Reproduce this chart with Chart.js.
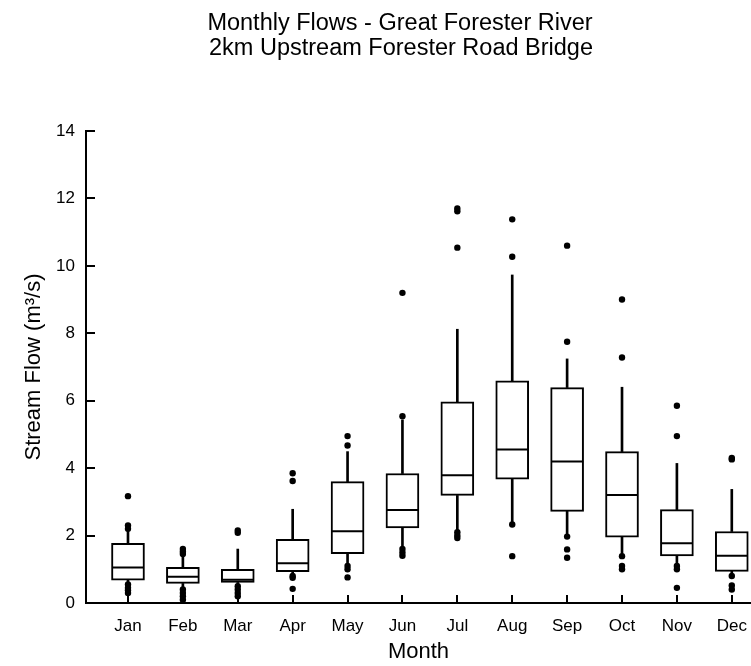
<!DOCTYPE html>
<html>
<head>
<meta charset="utf-8">
<title>Monthly Flows - Great Forester River</title>
<script src="https://cdn.jsdelivr.net/npm/chart.js@4.4.1/dist/chart.umd.min.js"></script>
<style>
    html, body { margin: 0; padding: 0; background: #fff; }
    #wadah { width: 751px; height: 666px; }
</style>
</head>
<body>
<div id="wadah"><canvas id="boxplotDebit" width="751" height="666"></canvas></div>
<script>
// Data debit bulanan (m3/s)
const bulan = ['Jan', 'Feb', 'Mar', 'Apr', 'May', 'Jun', 'Jul', 'Aug', 'Sep', 'Oct', 'Nov', 'Dec'];
const kuartil1 = [0.68, 0.58, 0.61, 0.93, 1.46, 2.23, 3.19, 3.67, 2.72, 1.95, 1.40, 0.94];
const median = [1.05, 0.78, 0.69, 1.18, 2.13, 2.76, 3.79, 4.55, 4.20, 3.20, 1.77, 1.40];
const kuartil3 = [1.77, 1.06, 1.00, 1.89, 3.60, 3.84, 5.97, 6.59, 6.39, 4.49, 2.77, 2.12];
const kumisBawah = [0.60, 0.45, 0.53, 0.80, 1.10, 1.60, 2.10, 2.33, 1.97, 1.39, 1.10, 0.80];
const kumisAtas = [2.20, 1.50, 1.60, 2.78, 4.49, 5.43, 8.12, 9.73, 7.24, 6.40, 4.14, 3.37];
const pencilan = [
    [3.17, 2.30, 2.20, 0.55, 0.45, 0.38, 0.30],
    [1.60, 1.52, 1.45, 0.40, 0.30, 0.20, 0.10],
    [2.15, 2.08, 0.50, 0.40, 0.30, 0.20],
    [3.85, 3.62, 0.80, 0.75, 0.42],
    [4.95, 4.67, 1.10, 1.00, 0.76],
    [9.20, 5.54, 1.60, 1.50, 1.40],
    [11.70, 11.62, 10.54, 2.10, 2.00, 1.93],
    [11.38, 10.27, 2.33, 1.39],
    [10.60, 7.75, 1.97, 1.59, 1.34],
    [9.00, 7.28, 1.39, 1.10, 1.00],
    [5.85, 4.95, 1.10, 1.00, 0.45],
    [4.30, 4.26, 0.80, 0.52, 0.40]
];
const tickY = [0, 2, 4, 6, 8, 10, 12, 14];
const judul = ['Monthly Flows - Great Forester River', '2km Upstream Forester Road Bridge'];

document.addEventListener('DOMContentLoaded', function () {
    Chart.defaults.font.family = '"Liberation Sans", Arial, sans-serif';
    Chart.defaults.color = '#000';

    // Titik-titik untuk dataset (posisi x = nomor bulan)
    const dataKotak = bulan.map((b, i) => ({ x: i + 1, y: [kuartil1[i], kuartil3[i]] }));
    const dataKumisAtas = bulan.map((b, i) => ({ x: i + 1, y: [kuartil3[i], kumisAtas[i]] }));
    const dataKumisBawah = bulan.map((b, i) => ({ x: i + 1, y: [kumisBawah[i], kuartil1[i]] }));
    const dataMedian = bulan.map((b, i) => ({ x: i + 1, y: median[i] }));
    const dataPencilan = [];
    pencilan.forEach(function (daftar, i) {
        daftar.forEach(function (v) {
            dataPencilan.push({ x: i + 1, y: v });
        });
    });

    // Plugin judul dua baris
    const judulPlugin = {
        id: 'judulPlugin',
        afterDraw(chart) {
            const ctx = chart.ctx;
            ctx.save();
            ctx.fillStyle = '#000';
            ctx.font = '23.5px "Liberation Sans", Arial, sans-serif';
            ctx.textAlign = 'center';
            ctx.textBaseline = 'alphabetic';
            ctx.fillText(judul[0], 400, 30);
            ctx.fillText(judul[1], 401, 55);
            ctx.restore();
        }
    };

    // Plugin garis tick yang menghadap ke dalam
    const tickDalam = {
        id: 'tickDalam',
        afterDraw(chart) {
            const { ctx, chartArea, scales: { x, y } } = chart;
            ctx.save();
            ctx.strokeStyle = '#000';
            ctx.lineWidth = 2;
            y.ticks.forEach(function (t, i) {
                const py = Math.round(y.getPixelForTick(i));
                ctx.beginPath();
                ctx.moveTo(chartArea.left, py);
                ctx.lineTo(chartArea.left + 9, py);
                ctx.stroke();
            });
            x.ticks.forEach(function (t, i) {
                const px = Math.round(x.getPixelForTick(i));
                ctx.beginPath();
                ctx.moveTo(px, chartArea.bottom);
                ctx.lineTo(px, chartArea.bottom - 8);
                ctx.stroke();
            });
            ctx.restore();
        }
    };

    const config = {
        type: 'bar',
        data: {
            datasets: [
                {
                    type: 'scatter',
                    data: dataPencilan,
                    pointStyle: 'circle',
                    pointRadius: 3.2,
                    backgroundColor: '#000',
                    borderColor: '#000',
                    borderWidth: 0,
                    order: 0
                },
                {
                    type: 'scatter',
                    data: dataMedian,
                    pointStyle: 'line',
                    pointRadius: 16,
                    borderColor: '#000',
                    borderWidth: 2,
                    order: 1
                },
                {
                    data: dataKotak,
                    backgroundColor: '#fff',
                    borderColor: '#000',
                    borderWidth: 2,
                    borderSkipped: false,
                    barThickness: 33,
                    grouped: false,
                    order: 2
                },
                {
                    data: dataKumisAtas,
                    backgroundColor: '#000',
                    borderWidth: 0,
                    barThickness: 2,
                    grouped: false,
                    order: 3
                },
                {
                    data: dataKumisBawah,
                    backgroundColor: '#000',
                    borderWidth: 0,
                    barThickness: 2,
                    grouped: false,
                    order: 3
                }
            ]
        },
        options: {
            responsive: false,
            animation: false,
            events: [],
            layout: {
                autoPadding: false,
                padding: { top: 131, right: 0, left: 0, bottom: 0 }
            },
            plugins: {
                legend: { display: false },
                tooltip: { enabled: false },
                title: { display: false }
            },
            scales: {
                x: {
                    type: 'linear',
                    offset: false,
                    min: 0.235,
                    max: 12.35,
                    afterBuildTicks: function (s) {
                        s.ticks = bulan.map((b, i) => ({ value: i + 1 }));
                    },
                    afterFit: function (s) {
                        // sumbu x dibiarkan sampai tepi kanan
                        s.height = 63;
                        s.paddingLeft = 0;
                        s.paddingRight = 0;
                    },
                    grid: { display: false, drawTicks: false, offset: false },
                    border: { display: true, color: '#000', width: 2 },
                    ticks: {
                        autoSkip: false,
                        maxRotation: 0,
                        padding: 13,
                        font: { size: 17 },
                        callback: function (v) { return bulan[v - 1]; }
                    },
                    title: {
                        display: true,
                        text: 'Month',
                        font: { size: 22 },
                        padding: { top: 0, bottom: 1 }
                    }
                },
                y: {
                    min: 0,
                    max: 14,
                    afterBuildTicks: function (s) {
                        s.ticks = tickY.map(v => ({ value: v }));
                    },
                    afterFit: function (s) {
                        s.width = 86;
                    },
                    grid: { display: false, drawTicks: false },
                    border: { display: true, color: '#000', width: 2 },
                    ticks: {
                        padding: 11,
                        font: { size: 17 }
                    },
                    title: {
                        display: true,
                        text: 'Stream Flow (m\u00B3/s)',
                        font: { size: 22 },
                        padding: { top: 21, bottom: 0 }
                    }
                }
            }
        },
        plugins: [judulPlugin, tickDalam]
    };

    const ctx = document.getElementById('boxplotDebit').getContext('2d');
    new Chart(ctx, config);
});
</script>
</body>
</html>
